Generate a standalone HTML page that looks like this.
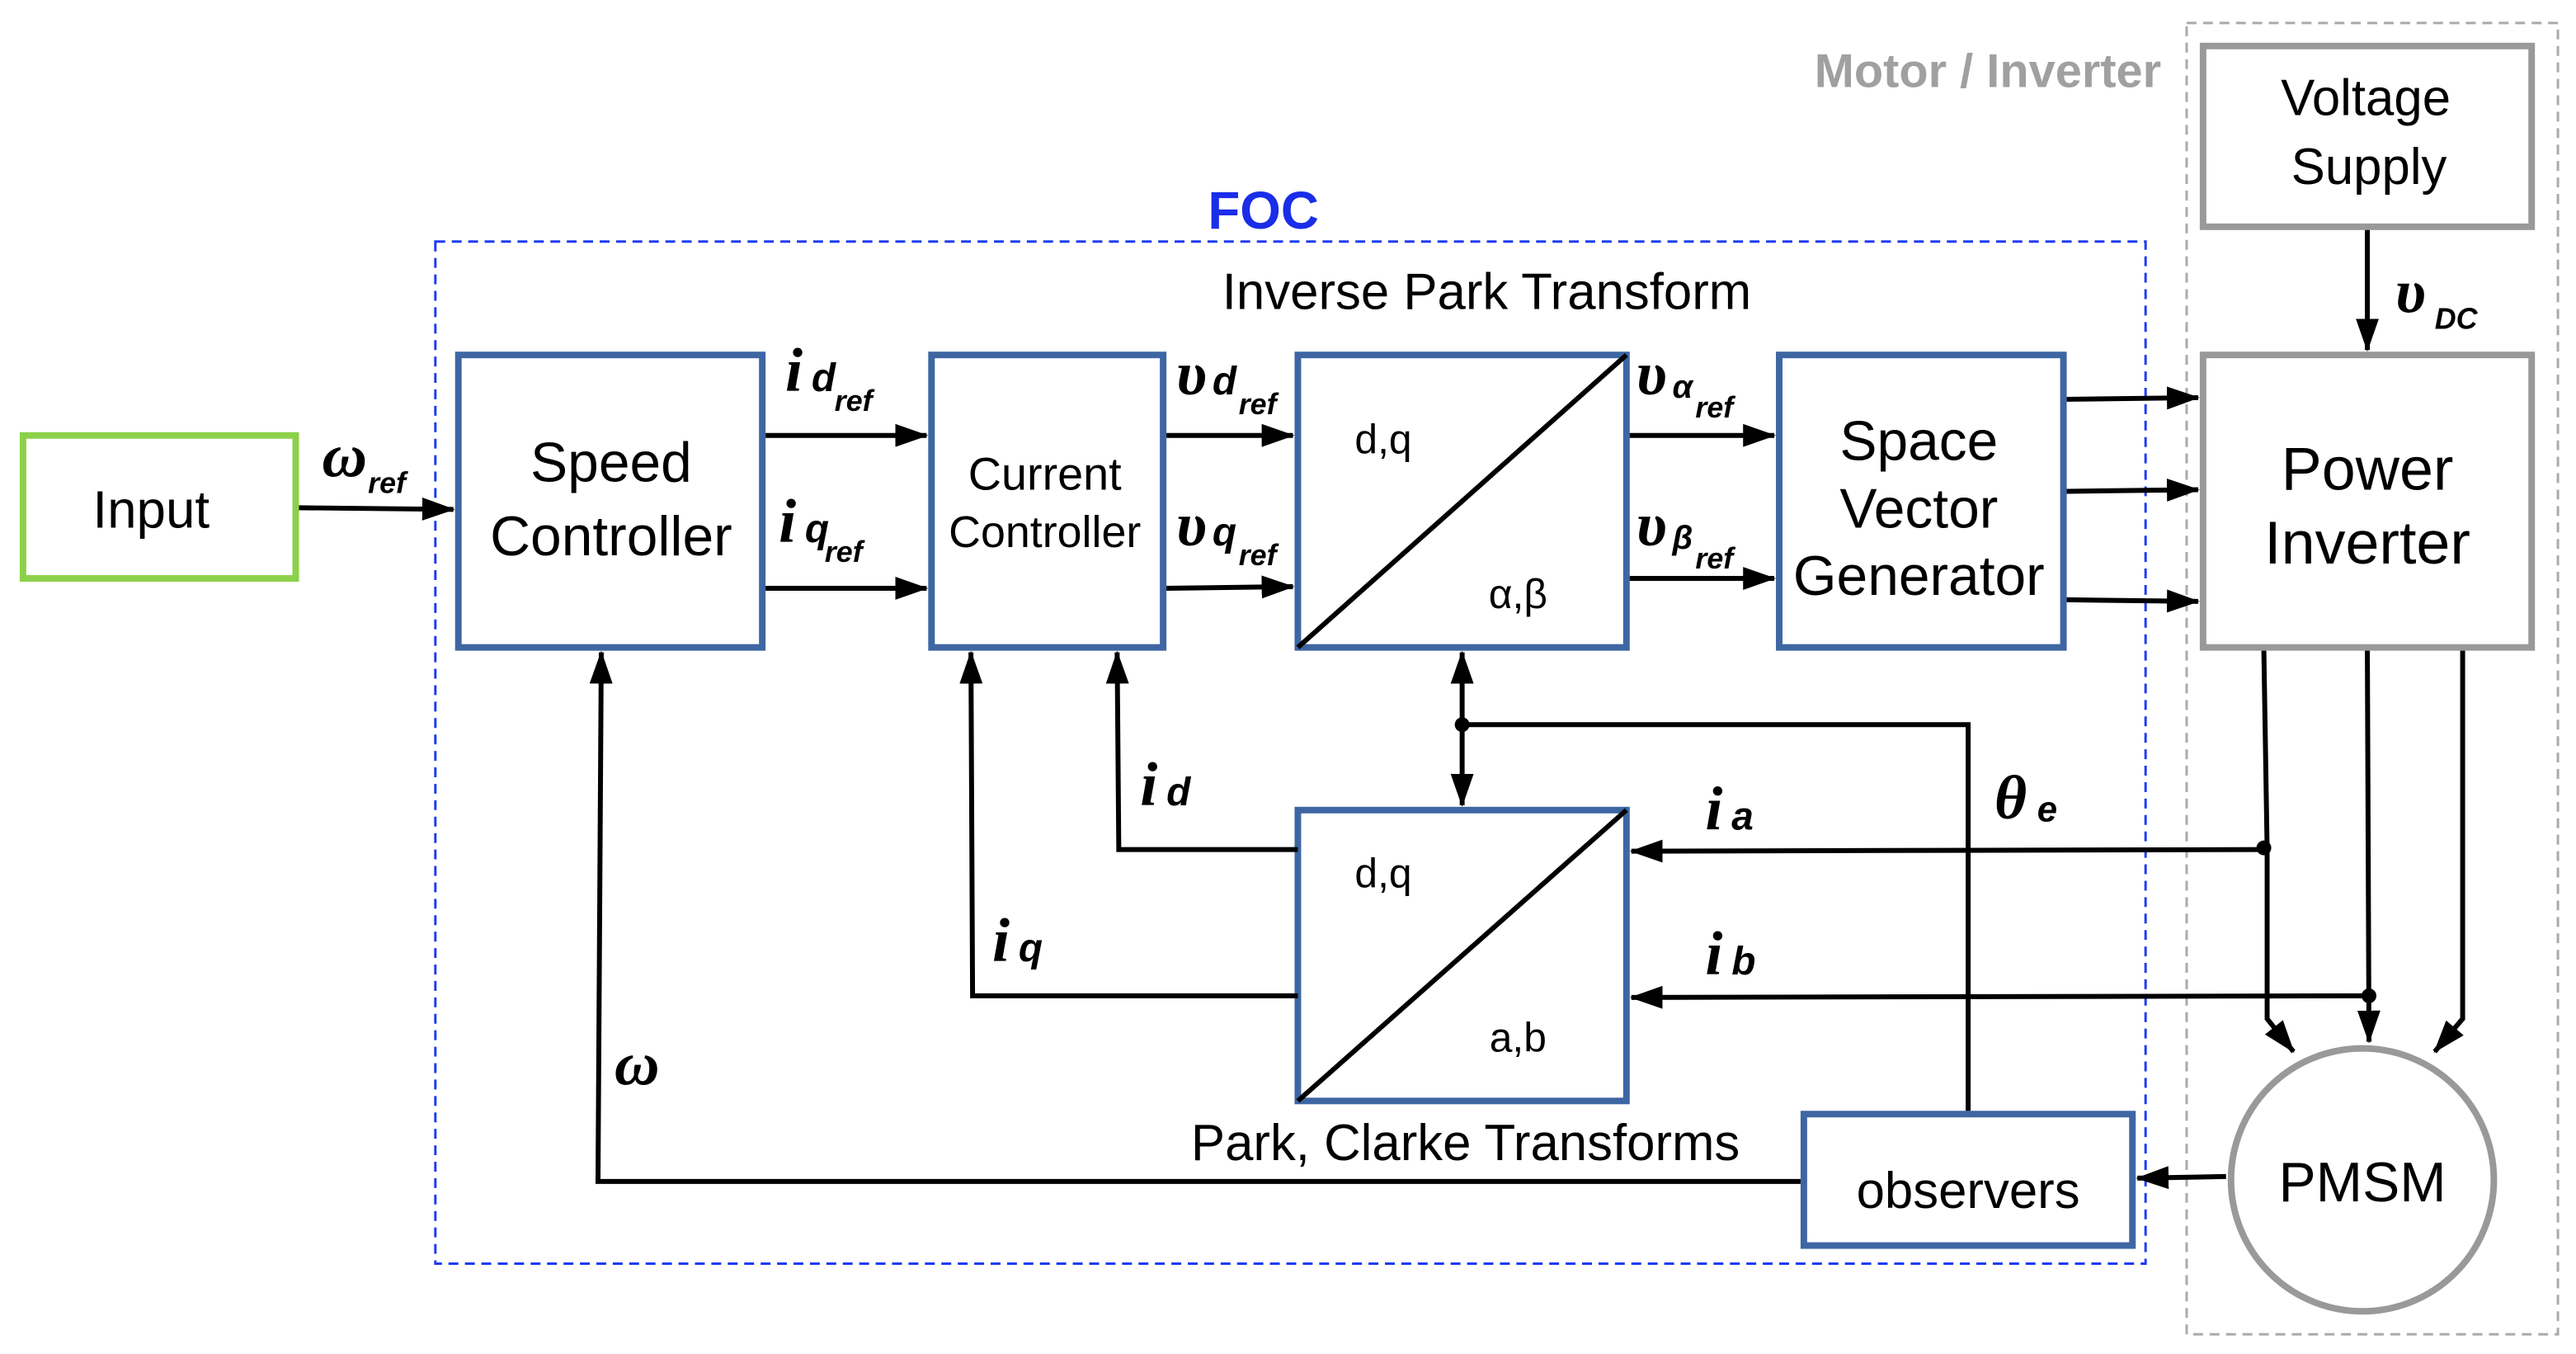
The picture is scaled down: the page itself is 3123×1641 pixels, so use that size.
<!DOCTYPE html>
<html><head><meta charset="utf-8"><style>
html,body{margin:0;padding:0;background:#fff}
svg{display:block}
text{font-family:"Liberation Sans",sans-serif;fill:#000}
.m{font-family:"Liberation Serif",serif;font-style:italic;font-weight:bold}
.s{font-family:"Liberation Sans",sans-serif;font-style:italic;font-weight:bold}
</style></head><body>
<svg width="3123" height="1641" viewBox="0 0 1568 824" preserveAspectRatio="none" xmlns="http://www.w3.org/2000/svg">
<defs><marker id="b" markerWidth="20" markerHeight="14" refX="19" refY="7" orient="auto" markerUnits="userSpaceOnUse"><path d="M0,0 L20,7 L0,14 Z" fill="#000"/></marker></defs>
<rect x="265" y="147" width="1041" height="622" fill="none" stroke="#1f3cf0" stroke-width="1.5" stroke-dasharray="6,4"/>
<rect x="1331" y="14" width="226" height="798" fill="none" stroke="#aaa" stroke-width="1.5" stroke-dasharray="6,4"/>
<text x="769" y="139" font-size="32" font-weight="bold" style="fill:#1a2de8" text-anchor="middle">FOC</text>
<text x="1210" y="53" font-size="29" font-weight="bold" style="fill:#a0a0a0" text-anchor="middle">Motor / Inverter</text>
<rect x="14" y="265" width="166" height="87" fill="#fff" stroke="#8cd04a" stroke-width="4"/>
<text x="92" y="321" font-size="32" text-anchor="middle">Input</text>
<g fill="#fff" stroke="#3e66a3" stroke-width="4">
<rect x="279" y="216" width="185" height="178"/>
<rect x="567" y="216" width="141" height="178"/>
<rect x="790" y="216" width="200" height="178"/>
<rect x="1083" y="216" width="173" height="178"/>
<rect x="790" y="493" width="200" height="177"/>
<rect x="1098" y="678" width="200" height="80"/>
</g>
<line x1="790" y1="394" x2="990" y2="216" stroke="#000" stroke-width="3"/>
<line x1="790" y1="670" x2="990" y2="493" stroke="#000" stroke-width="3"/>
<g fill="#fff" stroke="#999" stroke-width="4">
<rect x="1341" y="28" width="200" height="110"/>
<rect x="1341" y="216" width="200" height="178"/>
<circle cx="1438" cy="718" r="80"/>
</g>
<g font-size="34" text-anchor="middle">
<text x="372" y="293">Speed</text><text x="372" y="338">Controller</text>
<text x="1168" y="280">Space</text><text x="1168" y="321">Vector</text><text x="1168" y="362">Generator</text>
<text x="1441" y="298" font-size="37">Power</text><text x="1441" y="343" font-size="37">Inverter</text>
<text x="1440" y="70" font-size="31">Voltage</text><text x="1442" y="112" font-size="31">Supply</text>
<text x="1438" y="731">PMSM</text>
<text x="1198" y="735" font-size="31">observers</text>
</g>
<g font-size="28" text-anchor="middle">
<text x="636" y="298">Current</text><text x="636" y="333" font-size="27">Controller</text>
<text x="905" y="188" font-size="31">Inverse Park Transform</text>
<text x="892" y="706" font-size="31">Park, Clarke Transforms</text>
<text x="842" y="276" font-size="25">d,q</text><text x="924" y="370" font-size="25">α,β</text>
<text x="842" y="540" font-size="25">d,q</text><text x="924" y="640" font-size="25">a,b</text>
</g>
<g stroke="#000" stroke-width="3" fill="none">
<line x1="182" y1="309" x2="276" y2="310" marker-end="url(#b)"/>
<line x1="466" y1="265" x2="564" y2="265" marker-end="url(#b)"/>
<line x1="466" y1="358" x2="564" y2="358" marker-end="url(#b)"/>
<line x1="710" y1="265" x2="787" y2="265" marker-end="url(#b)"/>
<line x1="710" y1="358" x2="787" y2="357" marker-end="url(#b)"/>
<line x1="992" y1="265" x2="1080" y2="265" marker-end="url(#b)"/>
<line x1="992" y1="352" x2="1080" y2="352" marker-end="url(#b)"/>
<line x1="1258" y1="243" x2="1338" y2="242" marker-end="url(#b)"/>
<line x1="1258" y1="299" x2="1338" y2="298" marker-end="url(#b)"/>
<line x1="1258" y1="365" x2="1338" y2="366" marker-end="url(#b)"/>
<line x1="1441" y1="140" x2="1441" y2="213" marker-end="url(#b)"/>
<path d="M1096,719 L364,719 L366,397" marker-end="url(#b)"/>
<path d="M790,606 L592,606 L591,397" marker-end="url(#b)"/>
<path d="M790,517 L681,517 L680,397" marker-end="url(#b)"/>
<line x1="1378" y1="517" x2="993" y2="518" marker-end="url(#b)"/>
<line x1="1442" y1="606" x2="993" y2="607" marker-end="url(#b)"/>
<line x1="1378" y1="396" x2="1380" y2="517"/>
<path d="M1380,517 L1380,620 L1396,640" marker-end="url(#b)"/>
<line x1="1441" y1="396" x2="1442" y2="634" marker-end="url(#b)"/>
<path d="M1499,396 L1499,620 L1482,640" marker-end="url(#b)"/>
<line x1="1355" y1="716" x2="1301" y2="717" marker-end="url(#b)"/>
<path d="M1198,676 L1198,441 L890,441"/>
<line x1="890" y1="441" x2="890" y2="397" marker-end="url(#b)"/>
<line x1="890" y1="441" x2="890" y2="490" marker-end="url(#b)"/>
</g>
<circle cx="890" cy="441" r="4.5" fill="#000"/>
<circle cx="1378" cy="516" r="4.5" fill="#000"/>
<circle cx="1442" cy="606" r="4.5" fill="#000"/>
<g font-size="38">
<text class="m" x="196" y="290">ω</text><text class="s" x="224" y="300" font-size="18">ref</text>
<text class="m" x="478" y="238">i</text><text class="s" x="494" y="238" font-size="24" font-weight="normal">d</text><text class="s" x="508" y="250" font-size="18">ref</text>
<text class="m" x="474" y="330">i</text><text class="s" x="490" y="330" font-size="24" font-weight="normal">q</text><text class="s" x="502" y="342" font-size="18">ref</text>
<text class="m" x="716" y="240">υ</text><text class="s" x="738" y="240" font-size="24" font-weight="normal">d</text><text class="s" x="754" y="252" font-size="18">ref</text>
<text class="m" x="716" y="332">υ</text><text class="s" x="738" y="332" font-size="24" font-weight="normal">q</text><text class="s" x="754" y="344" font-size="18">ref</text>
<text class="m" x="996" y="240">υ</text><text class="s" x="1018" y="242" font-size="20" font-weight="normal">α</text><text class="s" x="1032" y="254" font-size="18">ref</text>
<text class="m" x="996" y="332">υ</text><text class="s" x="1018" y="334" font-size="20" font-weight="normal">β</text><text class="s" x="1032" y="346" font-size="18">ref</text>
<text class="m" x="1458" y="190">υ</text><text class="s" x="1482" y="200" font-size="18" font-weight="normal">DC</text>
<text class="m" x="694" y="490">i</text><text class="s" x="710" y="490" font-size="24" font-weight="normal">d</text>
<text class="m" x="604" y="585">i</text><text class="s" x="620" y="585" font-size="24" font-weight="normal">q</text>
<text class="m" x="1038" y="505">i</text><text class="s" x="1054" y="505" font-size="24" font-weight="normal">a</text>
<text class="m" x="1038" y="593">i</text><text class="s" x="1054" y="593" font-size="24" font-weight="normal">b</text>
<text class="m" x="1214" y="498">θ</text><text class="s" x="1240" y="500" font-size="22" font-weight="normal">e</text>
<text class="m" x="374" y="660">ω</text>
</g>
</svg>
</body></html>
